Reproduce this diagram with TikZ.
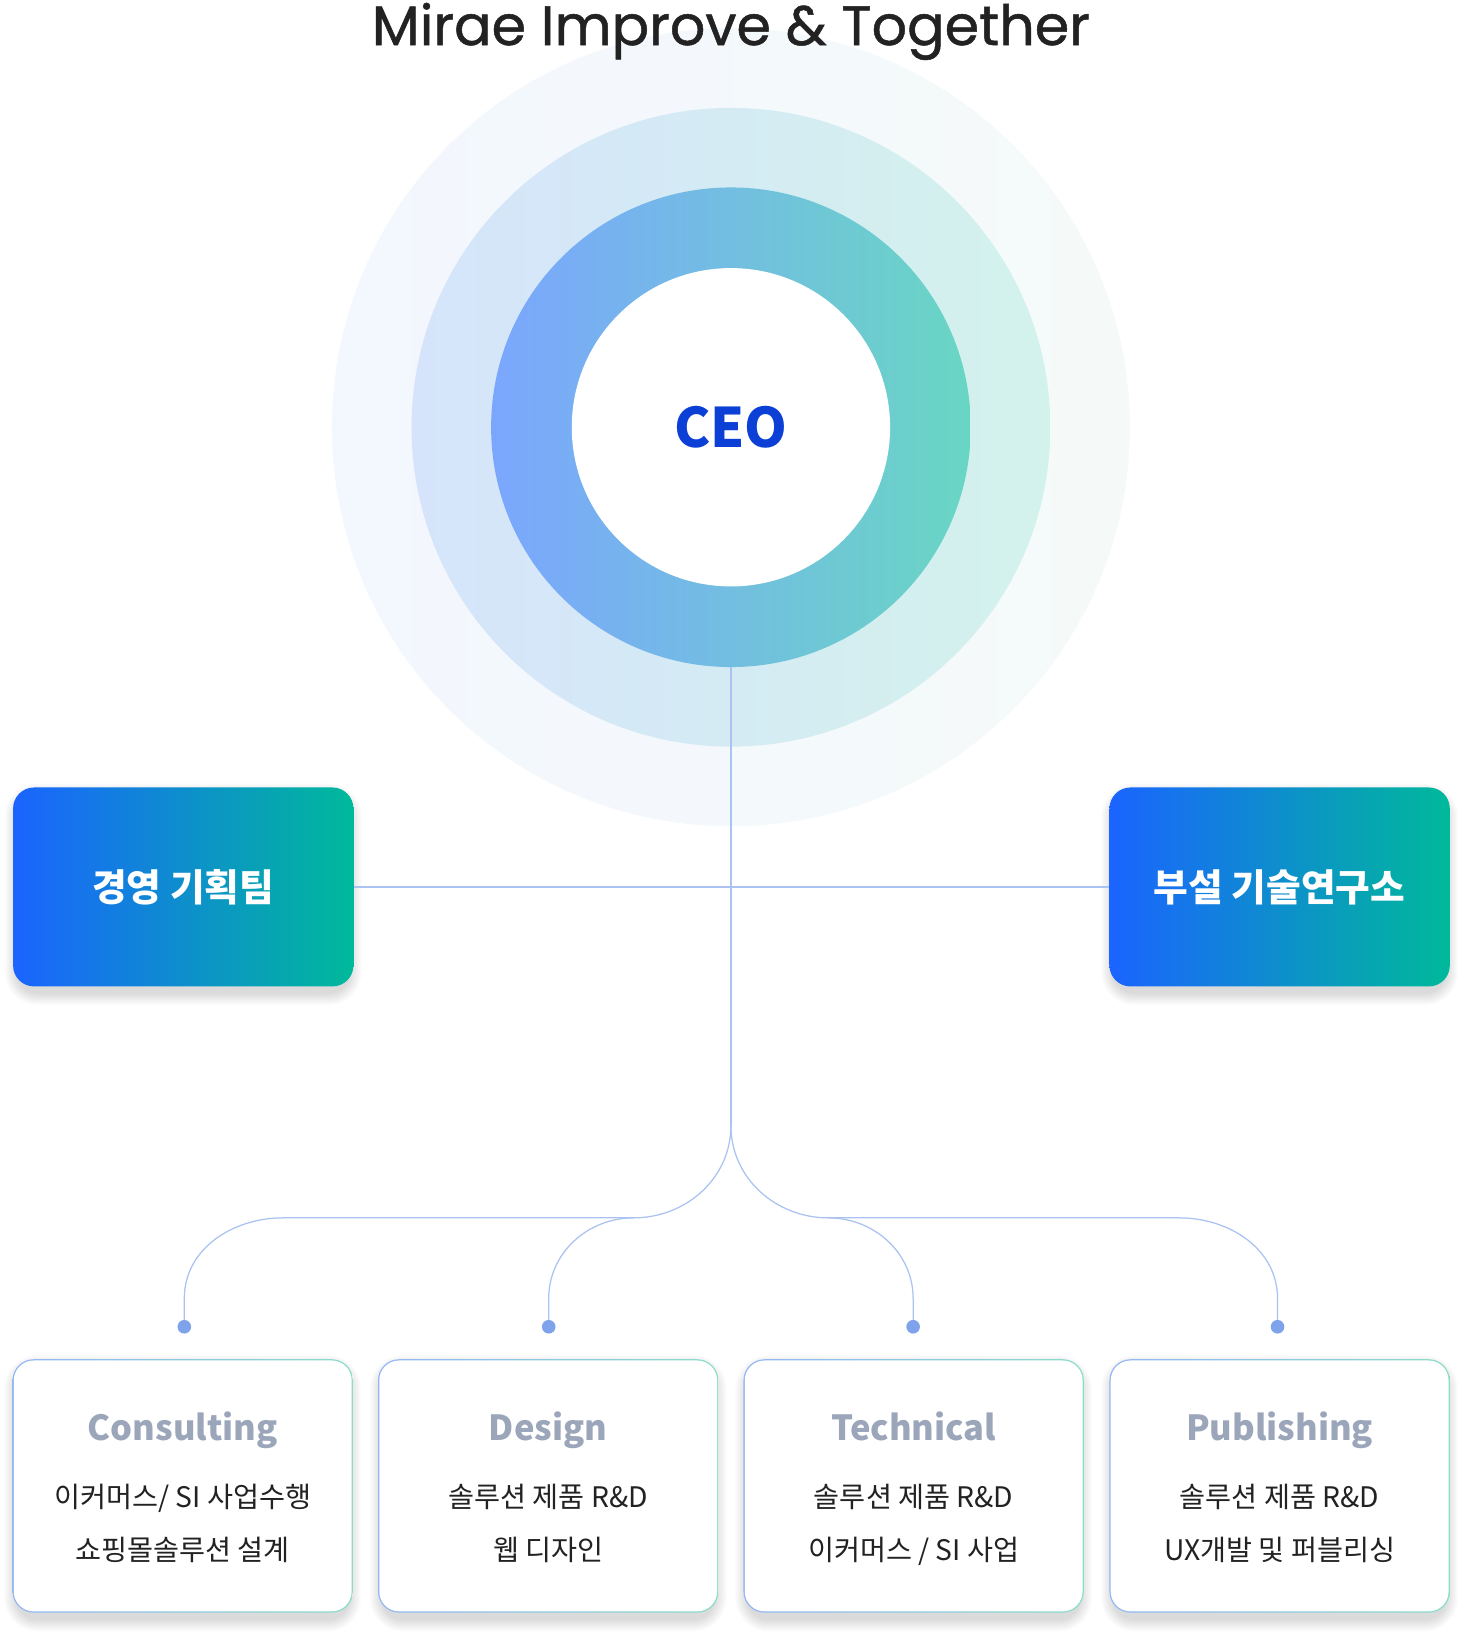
\documentclass[tikz,border=0pt]{standalone}
\usepackage{fontspec}
\setmainfont{Noto Sans CJK KR}
\newfontfamily\titlefont[FakeBold=0.9]{Poppins}
\usetikzlibrary{calc}
\definecolor{outerL}{HTML}{F3F7FE}
\definecolor{outerR}{HTML}{F5FAF9}
\definecolor{midL}{HTML}{D5E4FB}
\definecolor{midR}{HTML}{D3F2EC}
\definecolor{ringL}{HTML}{7BA6FE}
\definecolor{ringR}{HTML}{69D6C3}
\definecolor{ceoblue}{HTML}{0B3FD6}
\definecolor{boxL}{HTML}{1B64FF}
\definecolor{boxR}{HTML}{00B99A}
\definecolor{linec}{HTML}{ABC3F1}
\definecolor{dotc}{HTML}{7FA3EA}
\definecolor{cardL}{HTML}{93B6F6}
\definecolor{cardR}{HTML}{8ADDC9}
\definecolor{titlegray}{HTML}{9CA6BA}
\definecolor{textdark}{HTML}{222222}
% soft shadow: centre x, centre y, width, height
\newcommand{\mysoftshadow}[4]{%
  \foreach \k in {1,...,12}{%
    \pgfmathsetmacro\rr{20+\k}%
    \fill[black, opacity=0.011, rounded corners=\rr pt]
      ({#1-#3/2-\k+4}, {#2-#4/2+8-\k}) rectangle ({#1+#3/2+\k-4}, {#2+#4/2+6+\k});
  }}
\begin{document}
\begin{tikzpicture}[x=1pt,y=-1pt,
  teambox/.style={rounded corners=20pt, minimum width=325pt, minimum height=190pt, inner sep=0pt,
    left color=boxL, right color=boxR, text=white, font=\bfseries\fontsize{36}{40}\selectfont},
  cardborder/.style={rounded corners=20pt, minimum width=325pt, minimum height=242pt, inner sep=0pt,
    left color=cardL, right color=cardR},
  cardfill/.style={rounded corners=19pt, minimum width=322.6pt, minimum height=239.6pt, inner sep=0pt, fill=white},
  cardtitle/.style={font=\bfseries\fontsize{33}{40}\selectfont, text=titlegray, anchor=base},
  cardtext/.style={font=\fontsize{27}{30}\selectfont, text=textdark, anchor=base},
  conn/.style={draw=linec, line width=1.2pt},
  dotmark/.style={fill=dotc}
]
\useasboundingbox (0,0) rectangle (1397,1569);
\fill[white] (0,0) rectangle (1397,1569);

% circles
\shade[left color=outerL, right color=outerR] (698,408) circle[radius=381pt];
\shade[left color=midL, right color=midR] (698,408) circle[radius=305pt];
\node[circle, minimum size=458pt, inner sep=0pt, left color=ringL, right color=ringR] (ceo) at (698,408) {};
\node[circle, minimum size=304pt, inner sep=0pt, fill=white, text=ceoblue,
      font=\bfseries\fontsize{52}{60}\selectfont] (ceoin) at (ceo) {CEO};

% title
\node[font=\titlefont\fontsize{53}{60}\selectfont, text=textdark, anchor=base] (title) at (698,43) {Mirae Improve \& Together};

% team boxes
\mysoftshadow{175}{847}{325}{190}
\mysoftshadow{1222}{847}{325}{190}
\node[teambox] (plan) at (175,847) {경영 기획팀};
\node[teambox] (lab) at (1222,847) {부설 기술연구소};

% cards
\foreach \n/\x in {1/174.5,2/523.5,3/872.5,4/1222}{
  \mysoftshadow{\x}{1419}{325}{242}
  \node[cardborder] (c\n) at (\x,1419) {};
  \node[cardfill] (cf\n) at (c\n) {};
}
\node[cardtitle] (t1) at ($(c1.north)+(0,78)$) {Consulting};
\node[cardtext] (a1) at ($(c1.north)+(0,142)$) {이커머스/ SI 사업수행};
\node[cardtext] (b1) at ($(c1.north)+(0,192)$) {쇼핑몰솔루션 설계};
\node[cardtitle] (t2) at ($(c2.north)+(0,78)$) {Design};
\node[cardtext] (a2) at ($(c2.north)+(0,142)$) {솔루션 제품 R\&D};
\node[cardtext] (b2) at ($(c2.north)+(0,192)$) {웹 디자인};
\node[cardtitle] (t3) at ($(c3.north)+(0,78)$) {Technical};
\node[cardtext] (a3) at ($(c3.north)+(0,142)$) {솔루션 제품 R\&D};
\node[cardtext] (b3) at ($(c3.north)+(0,192)$) {이커머스 / SI 사업};
\node[cardtitle] (t4) at ($(c4.north)+(0,78)$) {Publishing};
\node[cardtext] (a4) at ($(c4.north)+(0,142)$) {솔루션 제품 R\&D};
\node[cardtext] (b4) at ($(c4.north)+(0,192)$) {UX개발 및 퍼블리싱};

% connector coordinates
\coordinate (split) at (698,1075);
\coordinate (lj) at (605,1163);
\coordinate (rj) at (791,1163);
\coordinate (lh) at (270,1163);
\coordinate (rh) at (1126,1163);
\coordinate (v1) at (176,1240);
\coordinate (v2) at (524,1240);
\coordinate (v3) at (872,1240);
\coordinate (v4) at (1220,1240);
\coordinate (d1) at (176,1267);
\coordinate (d2) at (524,1267);
\coordinate (d3) at (872,1267);
\coordinate (d4) at (1220,1267);

\draw[conn] (ceo.south) -- (split);
\draw[conn] (plan.east) -- (lab.west);
\draw[conn] (split) to[out=-90,in=0] (lj) -- (lh) to[out=180,in=90] (v1) -- (d1);
\draw[conn] (lj) to[out=180,in=90] (v2) -- (d2);
\draw[conn] (split) to[out=-90,in=180] (rj) -- (rh) to[out=0,in=90] (v4) -- (d4);
\draw[conn] (rj) to[out=0,in=90] (v3) -- (d3);
\foreach \n in {1,2,3,4}{ \fill[dotmark] (d\n) circle[radius=6.5pt]; }
\end{tikzpicture}
\end{document}
